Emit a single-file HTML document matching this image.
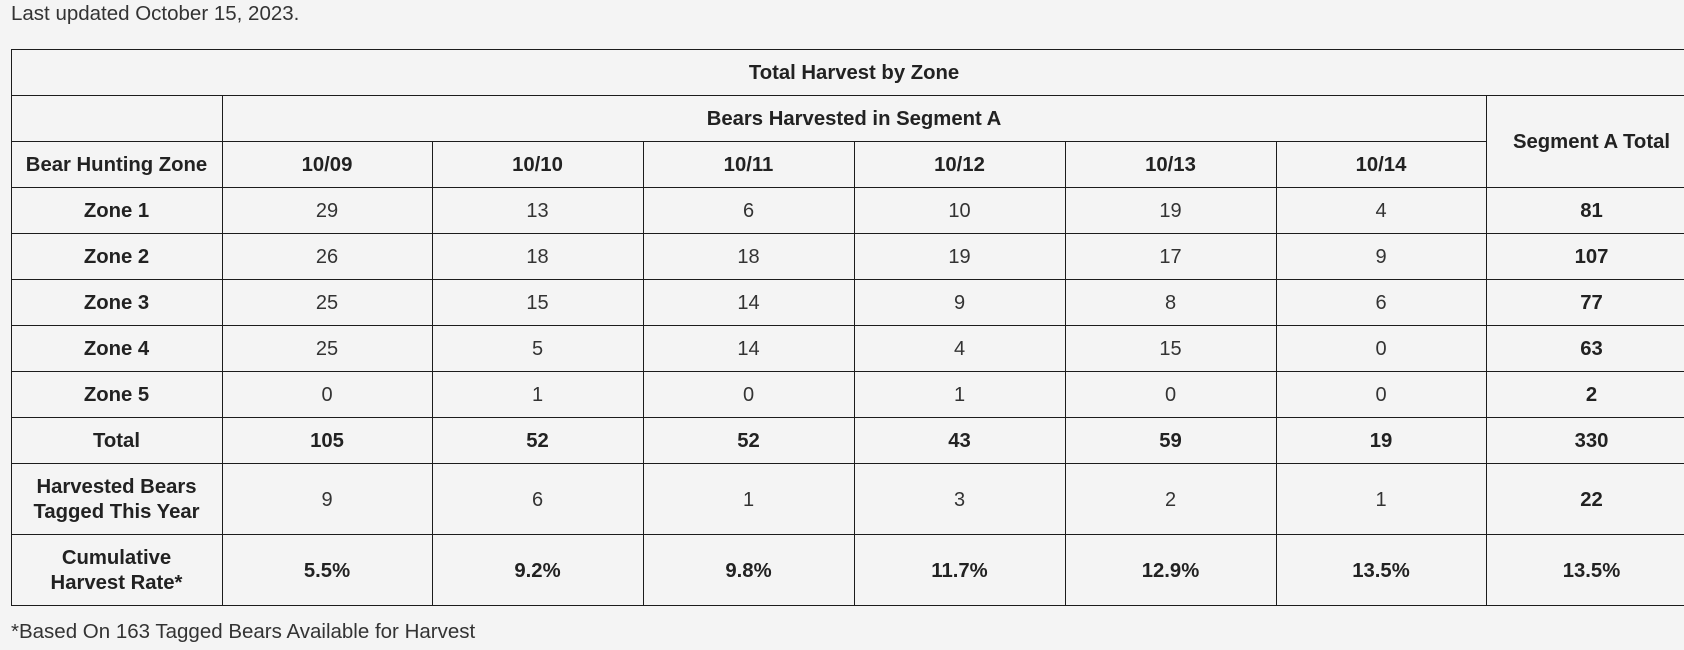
<!DOCTYPE html>
<html>
<head>
<meta charset="utf-8">
<style>
  html,body{margin:0;padding:0;}
  body{width:1684px;height:650px;overflow:hidden;background:#f4f4f4;position:relative;font-family:"Liberation Sans",Arial,sans-serif;color:#333;}
  .p{position:absolute;left:11px;font-size:20.5px;line-height:24px;white-space:nowrap;color:#333;}
  .h{position:absolute;height:1px;background:#1c1c1c;}
  .v{position:absolute;width:1px;background:#1c1c1c;}
  .c{position:absolute;display:flex;align-items:center;justify-content:center;text-align:center;font-size:20px;line-height:25px;white-space:nowrap;color:#333;box-sizing:border-box;padding-top:3px;}
  .b{font-weight:bold;color:#222;font-size:20.3px;}
  .c1{left:11px;width:211px}
  .c2{left:222px;width:210px}
  .c3{left:432px;width:211px}
  .c4{left:643px;width:211px}
  .c5{left:854px;width:211px}
  .c6{left:1065px;width:211px}
  .c7{left:1276px;width:210px}
  .c8{left:1486px;width:211px}
  .r0{top:141px;height:46px}
  .r1{top:187px;height:46px}
  .r2{top:233px;height:46px}
  .r3{top:279px;height:46px}
  .r4{top:325px;height:46px}
  .r5{top:371px;height:46px}
  .r6{top:417px;height:46px}
  .r7{top:463px;height:71px}
  .r8{top:534px;height:71px}
</style>
</head>
<body>
<div class="p" style="top:2px;">Last updated October 15, 2023.</div>

<!-- horizontal lines -->
<div class="h" style="top:49px;left:11px;width:1686px;"></div>
<div class="h" style="top:95px;left:11px;width:1686px;"></div>
<div class="h" style="top:141px;left:11px;width:1476px;"></div>
<div class="h" style="top:187px;left:11px;width:1686px;"></div>
<div class="h" style="top:233px;left:11px;width:1686px;"></div>
<div class="h" style="top:279px;left:11px;width:1686px;"></div>
<div class="h" style="top:325px;left:11px;width:1686px;"></div>
<div class="h" style="top:371px;left:11px;width:1686px;"></div>
<div class="h" style="top:417px;left:11px;width:1686px;"></div>
<div class="h" style="top:463px;left:11px;width:1686px;"></div>
<div class="h" style="top:534px;left:11px;width:1686px;"></div>
<div class="h" style="top:605px;left:11px;width:1686px;"></div>

<!-- vertical lines -->
<div class="v" style="left:11px;top:49px;height:557px;"></div>
<div class="v" style="left:222px;top:95px;height:511px;"></div>
<div class="v" style="left:432px;top:141px;height:465px;"></div>
<div class="v" style="left:643px;top:141px;height:465px;"></div>
<div class="v" style="left:854px;top:141px;height:465px;"></div>
<div class="v" style="left:1065px;top:141px;height:465px;"></div>
<div class="v" style="left:1276px;top:141px;height:465px;"></div>
<div class="v" style="left:1486px;top:95px;height:511px;"></div>

<!-- header -->
<div class="c b" style="left:11px;width:1686px;top:49px;height:46px;">Total Harvest by Zone</div>
<div class="c b" style="left:222px;width:1264px;top:95px;height:46px;">Bears Harvested in Segment A</div>
<div class="c b c8" style="top:95px;height:92px;">Segment A Total</div>

<div class="c b c1 r0">Bear Hunting Zone</div>
<div class="c b c2 r0">10/09</div>
<div class="c b c3 r0">10/10</div>
<div class="c b c4 r0">10/11</div>
<div class="c b c5 r0">10/12</div>
<div class="c b c6 r0">10/13</div>
<div class="c b c7 r0">10/14</div>

<!-- Zone 1 -->
<div class="c b c1 r1">Zone 1</div>
<div class="c c2 r1">29</div>
<div class="c c3 r1">13</div>
<div class="c c4 r1">6</div>
<div class="c c5 r1">10</div>
<div class="c c6 r1">19</div>
<div class="c c7 r1">4</div>
<div class="c b c8 r1">81</div>

<!-- Zone 2 -->
<div class="c b c1 r2">Zone 2</div>
<div class="c c2 r2">26</div>
<div class="c c3 r2">18</div>
<div class="c c4 r2">18</div>
<div class="c c5 r2">19</div>
<div class="c c6 r2">17</div>
<div class="c c7 r2">9</div>
<div class="c b c8 r2">107</div>

<!-- Zone 3 -->
<div class="c b c1 r3">Zone 3</div>
<div class="c c2 r3">25</div>
<div class="c c3 r3">15</div>
<div class="c c4 r3">14</div>
<div class="c c5 r3">9</div>
<div class="c c6 r3">8</div>
<div class="c c7 r3">6</div>
<div class="c b c8 r3">77</div>

<!-- Zone 4 -->
<div class="c b c1 r4">Zone 4</div>
<div class="c c2 r4">25</div>
<div class="c c3 r4">5</div>
<div class="c c4 r4">14</div>
<div class="c c5 r4">4</div>
<div class="c c6 r4">15</div>
<div class="c c7 r4">0</div>
<div class="c b c8 r4">63</div>

<!-- Zone 5 -->
<div class="c b c1 r5">Zone 5</div>
<div class="c c2 r5">0</div>
<div class="c c3 r5">1</div>
<div class="c c4 r5">0</div>
<div class="c c5 r5">1</div>
<div class="c c6 r5">0</div>
<div class="c c7 r5">0</div>
<div class="c b c8 r5">2</div>

<!-- Total -->
<div class="c b c1 r6">Total</div>
<div class="c b c2 r6">105</div>
<div class="c b c3 r6">52</div>
<div class="c b c4 r6">52</div>
<div class="c b c5 r6">43</div>
<div class="c b c6 r6">59</div>
<div class="c b c7 r6">19</div>
<div class="c b c8 r6">330</div>

<!-- Harvested Bears Tagged This Year -->
<div class="c b c1 r7">Harvested Bears<br>Tagged This Year</div>
<div class="c c2 r7">9</div>
<div class="c c3 r7">6</div>
<div class="c c4 r7">1</div>
<div class="c c5 r7">3</div>
<div class="c c6 r7">2</div>
<div class="c c7 r7">1</div>
<div class="c b c8 r7">22</div>

<!-- Cumulative Harvest Rate -->
<div class="c b c1 r8">Cumulative<br>Harvest Rate*</div>
<div class="c b c2 r8">5.5%</div>
<div class="c b c3 r8">9.2%</div>
<div class="c b c4 r8">9.8%</div>
<div class="c b c5 r8">11.7%</div>
<div class="c b c6 r8">12.9%</div>
<div class="c b c7 r8">13.5%</div>
<div class="c b c8 r8">13.5%</div>

<div class="p" style="top:620px;">*Based On 163 Tagged Bears Available for Harvest</div>
</body>
</html>
